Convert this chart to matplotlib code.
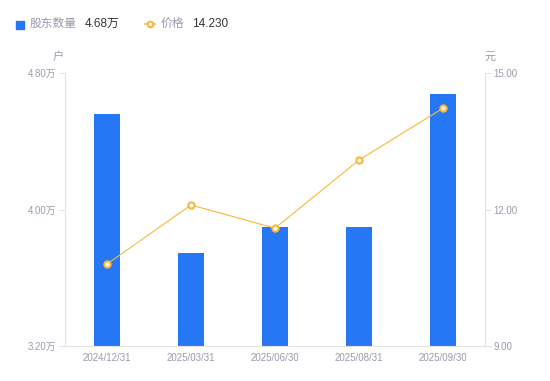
import numpy as np
import matplotlib.pyplot as plt
from matplotlib.lines import Line2D

plt.rcParams['font.family'] = ['Liberation Sans', 'Noto Sans CJK SC', 'DejaVu Sans']

# data
dates = ['2024/12/31', '2025/03/31', '2025/06/30', '2025/08/31', '2025/09/30']
holders = [4.56, 3.745, 3.90, 3.90, 4.68]      # 万户
price = [10.80, 12.10, 11.59, 13.09, 14.23]     # 元
left_ticks = [3.20, 4.00, 4.80]
right_ticks = [9.00, 12.00, 15.00]

blue = '#2677f5'
orange = '#fbb739'
grey = '#9a9aae'
axis_grey = '#e3e3e8'

fig = plt.figure(figsize=(5.5, 3.81), dpi=100)
ax = fig.add_axes([0.118, 0.092, 0.764, 0.716])
x = np.arange(len(dates))
ax.bar(x, holders, width=0.3, color=blue, zorder=2)
ax.set_xlim(-0.5, len(dates) - 0.5)
ax.set_ylim(3.2, 4.8)
ax.set_yticks(left_ticks)
ax.set_yticklabels([f'{v:.2f}万' for v in left_ticks])
ax.set_xticks(x)
ax.set_xticklabels(dates)

ax2 = ax.twinx()
ax2.plot(x, price, color=orange, lw=0.8, marker='o', ms=4.5, mfc='white',
         mec=orange, mew=1.5, zorder=3)
ax2.set_ylim(9, 15)
ax2.set_yticks(right_ticks)
ax2.set_yticklabels([f'{v:.2f}' for v in right_ticks])

for a in (ax, ax2):
    for s in a.spines.values():
        s.set_visible(False)
    a.tick_params(labelsize=7, colors=grey, length=4, width=0.8, pad=2)
    a.tick_params(axis='y', color=axis_grey)
ax.spines['left'].set_visible(True)
ax.spines['left'].set_color(axis_grey)
ax.spines['bottom'].set_visible(True)
ax.spines['bottom'].set_color(axis_grey)
ax2.spines['right'].set_visible(True)
ax2.spines['right'].set_color(axis_grey)
ax.tick_params(axis='x', length=0, pad=5)

fig.text(58 / 550, 1 - 57 / 381, '户', fontsize=8, color=grey, ha='center', va='center')
fig.text(490 / 550, 1 - 57 / 381, '元', fontsize=8, color=grey, ha='center', va='center')

# legend row
ly = 1 - 24 / 381
fig.patches.append(plt.Rectangle((16 / 550, ly - 0.012), 8 / 550, 8 / 381,
                                 transform=fig.transFigure, color=blue))
fig.text(30 / 550, ly, '股东数量', fontsize=8.5, color=grey, va='center')
fig.text(85 / 550, ly, '4.68万', fontsize=8.5, color='#333333', va='center')
fig.lines.append(Line2D([145 / 550, 155 / 550], [ly, ly], transform=fig.transFigure,
                        color=orange, lw=1.2))
fig.lines.append(Line2D([150 / 550], [ly], transform=fig.transFigure, marker='o',
                        ms=4, mfc='white', mec=orange, mew=1.5))
fig.text(161 / 550, ly, '价格', fontsize=8.5, color=grey, va='center')
fig.text(192 / 550, ly, '14.230', fontsize=8.5, color='#333333', va='center')

fig.savefig('out.png', dpi=100)
